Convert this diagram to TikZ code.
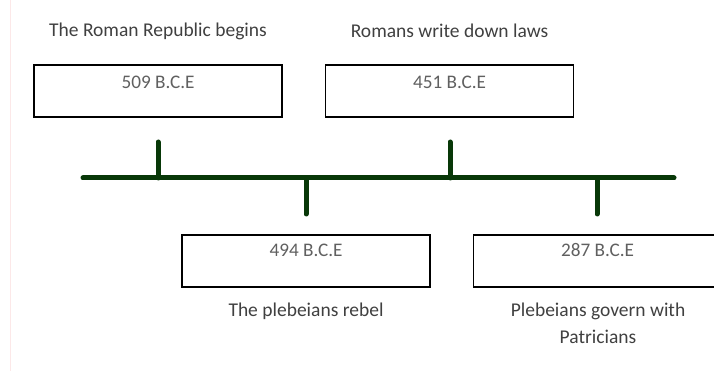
\documentclass[tikz,border=0pt]{standalone}
\usepackage{fontspec}
\setmainfont{Carlito}
\definecolor{tlgreen}{RGB}{8,56,8}
\definecolor{labelgray}{RGB}{64,64,64}
\definecolor{dategray}{RGB}{96,96,96}
\definecolor{edgepink}{RGB}{252,232,232}
\begin{document}
\begin{tikzpicture}[x=1pt,y=-1pt,
  datebox/.style={draw=black,line width=1.2pt,minimum width=248pt,minimum height=52pt,inner sep=0pt},
  datetext/.style={text=dategray,font=\fontsize{19.2}{22}\selectfont,inner sep=0pt},
  caption/.style={text=labelgray,font=\fontsize{19.5}{27}\selectfont,align=center,inner sep=0pt},
  timeline/.style={draw=tlgreen,line width=5pt,line cap=round}]
\useasboundingbox (0,0) rectangle (714,371);
\fill[white] (0,0) rectangle (714,371);
\draw[edgepink,line width=1pt] (10,0) -- (10,371);
% boxes
\node[datebox] (b1) at (158,91) {};
\node[datebox] (b2) at (449.5,91) {};
\node[datebox] (b3) at (306,261) {};
\node[datebox] (b4) at (597.5,261) {};
% dates
\node[datetext] (d1) at (158,82) {509 B.C.E};
\node[datetext] (d2) at (449.5,82) {451 B.C.E};
\node[datetext] (d3) at (306,250) {494 B.C.E};
\node[datetext] (d4) at (597.5,250) {287 B.C.E};
% captions
\node[caption] (c1) at (158,31) {The Roman Republic begins};
\node[caption] (c2) at (449.5,31) {Romans write down laws};
\node[caption] (c3) at (306,311) {The plebeians rebel};
\node[caption,anchor=north] (c4) at (598,303) {Plebeians govern with\\Patricians};
% timeline
\coordinate (tl) at (83,178);
\coordinate (tr) at (674,178);
\coordinate (u1) at (158,142);
\coordinate (u1b) at (158,178);
\coordinate (u2) at (450,142);
\coordinate (u2b) at (450,178);
\coordinate (l1) at (306,214);
\coordinate (l1b) at (306,178);
\coordinate (l2) at (597,214);
\coordinate (l2b) at (597,178);
\draw[timeline] (tl) -- (tr);
\draw[timeline] (u1) -- (u1b);
\draw[timeline] (u2) -- (u2b);
\draw[timeline] (l1b) -- (l1);
\draw[timeline] (l2b) -- (l2);
\end{tikzpicture}
\end{document}
